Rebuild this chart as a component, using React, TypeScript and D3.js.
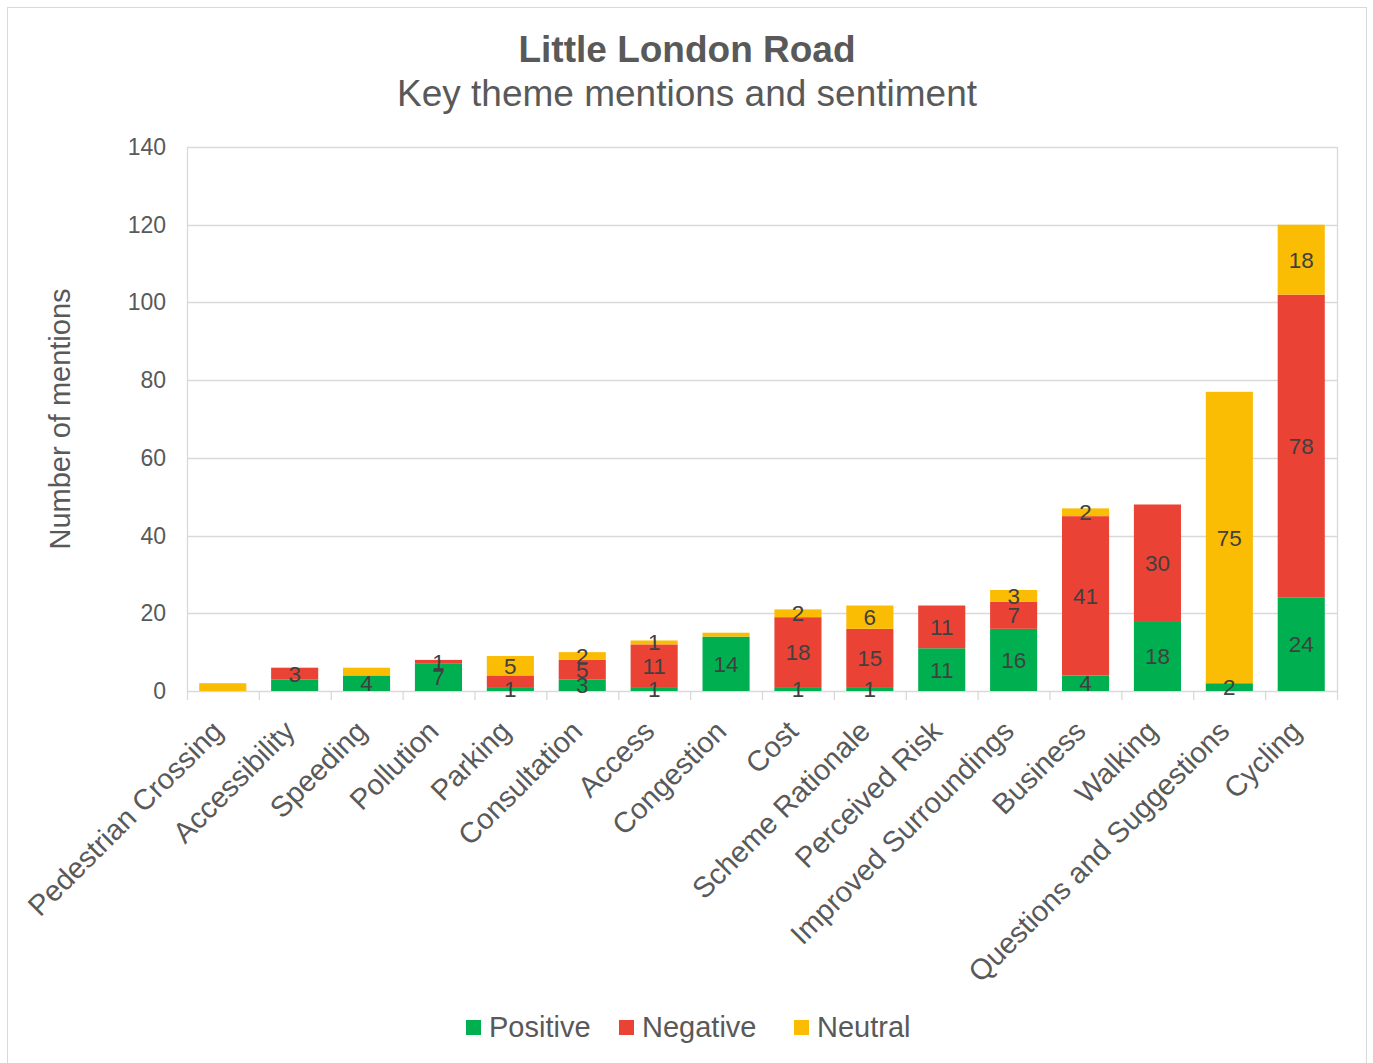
import React from "react";
import * as d3 from "d3";

const categories = [
  "Pedestrian Crossing", "Accessibility", "Speeding", "Pollution", "Parking",
  "Consultation", "Access", "Congestion", "Cost", "Scheme Rationale",
  "Perceived Risk", "Improved Surroundings", "Business", "Walking",
  "Questions and Suggestions", "Cycling",
];
const positive = [0, 3, 4, 7, 1, 3, 1, 14, 1, 1, 11, 16, 4, 18, 2, 24];
const negative = [0, 3, 0, 1, 3, 5, 11, 0, 18, 15, 11, 7, 41, 30, 0, 78];
const neutral = [2, 0, 2, 0, 5, 2, 1, 1, 2, 6, 0, 3, 2, 0, 75, 18];
// which data labels are drawn (1 = shown)
const positiveShown = [0, 0, 1, 1, 1, 1, 1, 1, 1, 1, 1, 1, 1, 1, 1, 1];
const negativeShown = [0, 1, 0, 1, 0, 1, 1, 0, 1, 1, 1, 1, 1, 1, 0, 1];
const neutralShown = [0, 0, 0, 0, 1, 1, 1, 0, 1, 1, 0, 1, 1, 0, 1, 1];
const seriesNames = ["Positive", "Negative", "Neutral"];
const seriesColors = ["#00b050", "#ea4335", "#fbbc04"];
const yTicks = [0, 20, 40, 60, 80, 100, 120, 140];

const W = 1373, H = 1063;
const plot = { left: 187, right: 1337, top: 147, bottom: 691 };
const FONT = "Liberation Sans, Arial, sans-serif";

export default function App() {
  const x = d3.scaleBand<string>().domain(categories).range([plot.left, plot.right]).paddingInner(0.345).paddingOuter(0.17);
  const xOuter = d3.scaleBand<string>().domain(categories).range([plot.left, plot.right]);
  const y = d3.scaleLinear().domain([0, 140]).range([plot.bottom, plot.top]);

  const rows = categories.map((c, i) => ({ cat: c, Positive: positive[i], Negative: negative[i], Neutral: neutral[i] }));
  const stacked = d3.stack<any>().keys(seriesNames)(rows);
  const shown = [positiveShown, negativeShown, neutralShown];

  const legendItems = [
    { name: "Positive", x: 466 },
    { name: "Negative", x: 619 },
    { name: "Neutral", x: 794 },
  ];

  return (
    <svg width={W} height={H} style={{ display: "block", position: "absolute", left: 0, top: 0 }} fontFamily={FONT}>
      <rect x={0} y={0} width={W} height={H} fill="#fff" />
      <rect x={7.5} y={7.5} width={1359} height={1070} fill="#fff" stroke="#d9d9d9" strokeWidth={1} />
      <text x={687} y={62} textAnchor="middle" fontSize={37} fontWeight="bold" fill="#595959">Little London Road</text>
      <text x={687} y={106} textAnchor="middle" fontSize={37} fill="#595959">Key theme mentions and sentiment</text>

      {yTicks.map((t) => (
        <g key={t}>
          <line x1={plot.left} x2={plot.right} y1={Math.round(y(t)) + 0.5} y2={Math.round(y(t)) + 0.5} stroke="#d9d9d9" strokeWidth={1.3} />
          <text x={166} y={y(t) + 8} textAnchor="end" fontSize={23} fill="#595959">{t}</text>
        </g>
      ))}
      <line x1={plot.left + 0.5} x2={plot.left + 0.5} y1={plot.top} y2={plot.bottom} stroke="#d9d9d9" strokeWidth={1.3} />
      <line x1={plot.right + 0.5} x2={plot.right + 0.5} y1={plot.top} y2={plot.bottom} stroke="#d9d9d9" strokeWidth={1.3} />
      {categories.map((c) => (
        <line key={c} x1={xOuter(c)! + 0.5} x2={xOuter(c)! + 0.5} y1={plot.bottom} y2={plot.bottom + 9} stroke="#d9d9d9" strokeWidth={1.3} />
      ))}
      <line x1={plot.right + 0.5} x2={plot.right + 0.5} y1={plot.bottom} y2={plot.bottom + 9} stroke="#d9d9d9" strokeWidth={1.3} />

      <text transform={`translate(70,${(plot.top + plot.bottom) / 2}) rotate(-90)`} textAnchor="middle" fontSize={29} fill="#595959">Number of mentions</text>

      {stacked.map((s, si) => (
        <g key={s.key}>
          {s.map((d, i) => {
            const h = y(d[0]) - y(d[1]);
            if (h <= 0) return null;
            return <rect key={i} x={x(categories[i])} y={y(d[1])} width={x.bandwidth()} height={h} fill={seriesColors[si]} />;
          })}
        </g>
      ))}
      {stacked.map((s, si) => (
        <g key={s.key + "l"}>
          {s.map((d, i) => {
            const v = d[1] - d[0];
            if (!shown[si][i] || v <= 0) return null;
            return (
              <text key={i} x={x(categories[i])! + x.bandwidth() / 2} y={y((d[0] + d[1]) / 2) + 8} textAnchor="middle" fontSize={22.5} fill="#404040">{v}</text>
            );
          })}
        </g>
      ))}

      {categories.map((c) => (
        <text key={c} transform={`translate(${x(c)! + x.bandwidth() / 2 + 2},${plot.bottom + 42}) rotate(-45)`} textAnchor="end" fontSize={29} fill="#595959">{c}</text>
      ))}

      {legendItems.map((l, i) => (
        <g key={l.name}>
          <rect x={l.x} y={1020} width={15} height={15} fill={seriesColors[i]} />
          <text x={l.x + 23} y={1037} fontSize={29} fill="#595959">{l.name}</text>
        </g>
      ))}
    </svg>
  );
}
